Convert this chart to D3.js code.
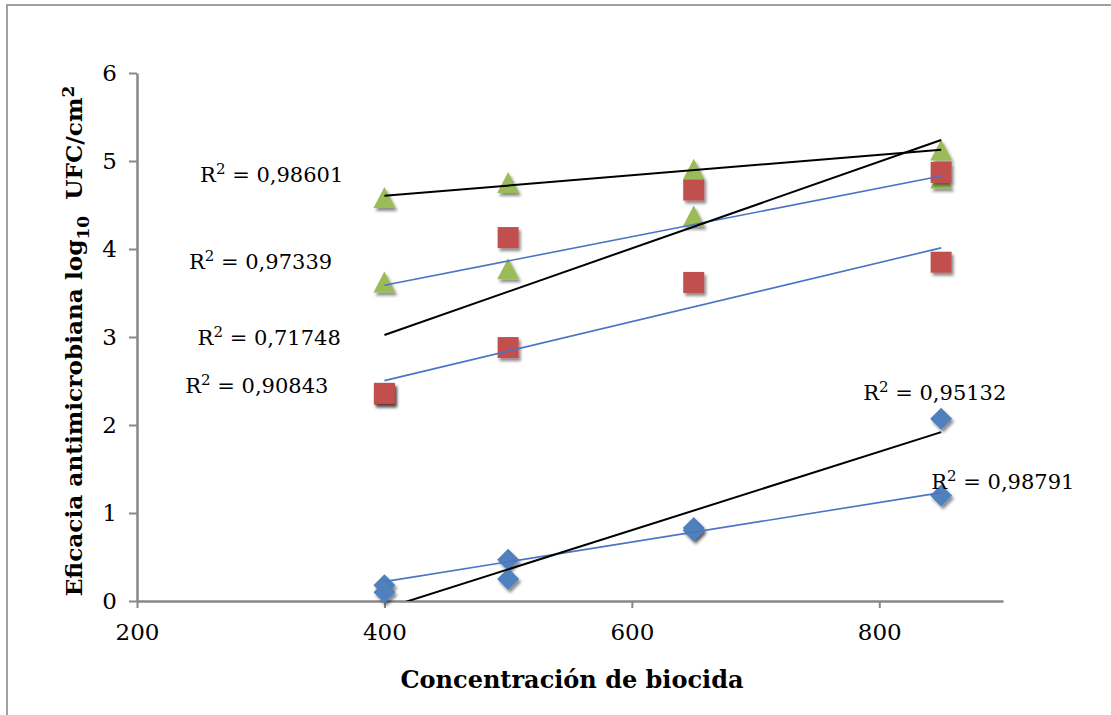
<!DOCTYPE html>
<html>
<head>
<meta charset="utf-8">
<script src="https://cdn.jsdelivr.net/npm/d3@7"></script>
<style>
  html, body { margin: 0; padding: 0; background: #fff; }
  svg { display: block; }
  .tick text { font-family: 'DejaVu Serif', serif; }
</style>
</head>
<body>
<svg id="chart"></svg>
<script>
// Concentraciones de biocida (eje x)
const concentrations = [400, 500, 650, 850];

// Valores (log10 UFC/cm2)
const diamondA = [0.18, 0.47, 0.83, 1.20];
const diamondB = [0.10, 0.25, 0.80, 2.07];
const squareC = [2.35, 2.88, 3.62, 3.85];
const squareD = [2.36, 4.13, 4.67, 4.87];
const triangleE = [4.58, 4.75, 4.90, 5.12];
const triangleF = [3.62, 3.77, 4.37, 4.80];

const xTicks = [200, 400, 600, 800];
const yTicks = [0, 1, 2, 3, 4, 5, 6];

// Textos de R2 de cada línea de tendencia
const r2Labels = ['0,98791', '0,95132', '0,90843', '0,71748', '0,98601', '0,97339'];

document.addEventListener('DOMContentLoaded', () => {
    const W = 1111, H = 715;
    const margin = { top: 73, right: 108, bottom: 114, left: 137 };
    const width = W - margin.left - margin.right;
    const height = H - margin.top - margin.bottom;

    const root = d3.select('#chart').attr('width', W).attr('height', H);

    // Drop shadow used by the markers
    const defs = root.append('defs');
    const shadow = defs.append('filter').attr('id', 'shadow')
        .attr('x', '-50%').attr('y', '-50%').attr('width', '200%').attr('height', '200%');
    shadow.append('feDropShadow')
        .attr('dx', 2).attr('dy', 3).attr('stdDeviation', 1.8)
        .attr('flood-color', '#000').attr('flood-opacity', 0.45);
    defs.append('clipPath').attr('id', 'plotClip')
        .append('rect').attr('x', 0).attr('y', 0).attr('width', width).attr('height', height);

    // Outer frame (only top and left edges are visible)
    root.append('path')
        .attr('d', `M7,${H} L7,5 L${W},5`)
        .attr('fill', 'none')
        .attr('stroke', '#a0a0a0')
        .attr('stroke-width', 2);

    const svg = root.append('g').attr('transform', `translate(${margin.left},${margin.top})`);

    const xScale = d3.scaleLinear().domain([200, 900]).range([0, width]);
    const yScale = d3.scaleLinear().domain([0, 6]).range([height, 0]);

    // Axes
    const xAxis = svg.append('g')
        .attr('transform', `translate(0,${height})`)
        .call(d3.axisBottom(xScale).tickValues(xTicks).tickFormat(d3.format('d'))
            .tickSize(7).tickPadding(12).tickSizeOuter(0));
    const yAxis = svg.append('g')
        .call(d3.axisLeft(yScale).tickValues(yTicks).tickFormat(d3.format('d'))
            .tickSize(8).tickPadding(12).tickSizeOuter(0));

    [xAxis, yAxis].forEach(ax => {
        ax.select('.domain').attr('stroke', '#888').attr('stroke-width', 2.5);
        ax.selectAll('.tick line').attr('stroke', '#888').attr('stroke-width', 2);
        ax.selectAll('.tick text')
            .attr('fill', '#000')
            .style('font-size', '23px');
    });
    xAxis.selectAll('.tick text').attr('dy', '0.85em');

    // Axis titles
    root.append('text')
        .attr('x', 572)
        .attr('y', 688)
        .attr('text-anchor', 'middle')
        .style('font-family', "'DejaVu Serif', serif")
        .style('font-weight', 'bold')
        .style('font-size', '24px')
        .text('Concentración de biocida');

    const yLabel = root.append('text')
        .attr('transform', 'translate(82,341) rotate(-90)')
        .attr('text-anchor', 'middle')
        .style('font-family', "'DejaVu Serif', serif")
        .style('font-weight', 'bold')
        .style('font-size', '23.2px');
    yLabel.append('tspan').text('Eficacia antimicrobiana log');
    yLabel.append('tspan').attr('dy', 7).style('font-size', '17px').text('10');
    yLabel.append('tspan').attr('dy', -7).text('\u00a0\u00a0UFC/cm');
    yLabel.append('tspan').attr('dy', -8).style('font-size', '17px').text('2');

    // Marker shapes
    const shapes = {
        diamond: 'M0,-11L11,0L0,11L-11,0Z',
        square: 'M-10.5,-10.5H10.5V10.5H-10.5Z',
        triangle: 'M0,-11L11,10H-11Z'
    };

    const series = [
        { values: diamondA, shape: 'diamond', fill: '#4f81bd', trend: '#4a74c4', label: r2Labels[0], pos: [842, 1.27] },
        { values: diamondB, shape: 'diamond', fill: '#4f81bd', trend: '#000', label: r2Labels[1], pos: [787, 2.28] },
        { values: triangleE, shape: 'triangle', fill: '#9bbb59', trend: '#000', label: r2Labels[4], pos: [251, 4.76] },
        { values: triangleF, shape: 'triangle', fill: '#9bbb59', trend: '#4a74c4', label: r2Labels[5], pos: [242, 3.77] },
        { values: squareC, shape: 'square', fill: '#c0504d', trend: '#4a74c4', label: r2Labels[2], pos: [239, 2.36] },
        { values: squareD, shape: 'square', fill: '#c0504d', trend: '#000', label: r2Labels[3], pos: [249, 2.91] }
    ];

    // Markers
    series.forEach(s => {
        const pts = concentrations.map((c, i) => ({ x: c, y: s.values[i] }));
        svg.append('g').selectAll('path')
            .data(pts)
            .enter()
            .append('path')
            .attr('d', shapes[s.shape])
            .attr('transform', d => `translate(${xScale(d.x)},${yScale(d.y)})`)
            .attr('fill', s.fill)
            .attr('filter', 'url(#shadow)');
    });

    // Linear trend lines (least squares)
    const trendG = svg.append('g').attr('clip-path', 'url(#plotClip)');
    series.forEach(s => {
        const mx = d3.mean(concentrations);
        const my = d3.mean(s.values);
        const sxy = d3.sum(concentrations, (c, i) => (c - mx) * (s.values[i] - my));
        const sxx = d3.sum(concentrations, c => (c - mx) * (c - mx));
        const slope = sxy / sxx;
        const x0 = d3.min(concentrations), x1 = d3.max(concentrations);
        const line = d3.line().x(d => xScale(d[0])).y(d => yScale(d[1]));
        trendG.append('path')
            .attr('d', line([[x0, my + slope * (x0 - mx)], [x1, my + slope * (x1 - mx)]]))
            .attr('fill', 'none')
            .attr('stroke', s.trend)
            .attr('stroke-width', s.trend === '#000' ? 2 : 1.6);
    });

    // R2 labels
    series.forEach(s => {
        const t = svg.append('text')
            .attr('x', xScale(s.pos[0]))
            .attr('y', yScale(s.pos[1]))
            .style('font-family', "'DejaVu Serif', serif")
            .style('font-size', '21px')
            .attr('fill', '#000');
        t.append('tspan').text('R');
        t.append('tspan').attr('dy', -8).style('font-size', '15px').text('2');
        t.append('tspan').attr('dy', 8).text(' = ' + s.label);
    });
});
</script>
</body>
</html>
